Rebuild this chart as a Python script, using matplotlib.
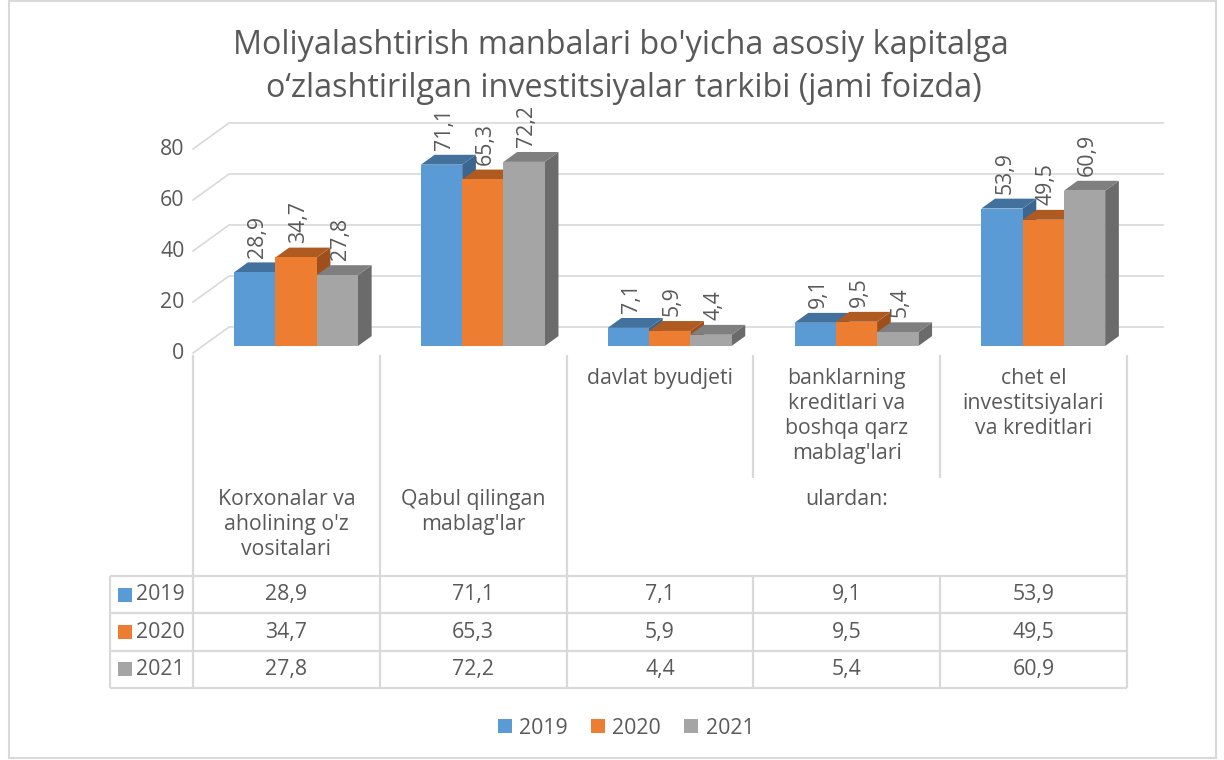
import matplotlib
matplotlib.use("Agg")
import matplotlib.pyplot as plt
from matplotlib.patches import Polygon, Rectangle, Patch

plt.rcParams['font.family'] = ['Open Sans', 'DejaVu Sans']

W, H = 1224, 760

# ---- data ----
years = ["2019", "2020", "2021"]
v2019 = [28.9, 71.1, 7.1, 9.1, 53.9]
v2020 = [34.7, 65.3, 5.9, 9.5, 49.5]
v2021 = [27.8, 72.2, 4.4, 5.4, 60.9]
series = [v2019, v2020, v2021]
yticks = [0, 20, 40, 60, 80]

# two-level category axis (Excel style)
level1_labels = ["", "", "davlat byudjeti",
                 "banklarning\nkreditlari va\nboshqa qarz\nmablag'lari",
                 "chet el\ninvestitsiyalari\nva kreditlari"]
level2_labels = ["Korxonalar va\naholining o'z\nvositalari", "Qabul qilingan\nmablag'lar"]
group_label = "ulardan:"

title1 = "Moliyalashtirish manbalari bo'yicha asosiy kapitalga"
title2 = "o\u2018zlashtirilgan investitsiyalar tarkibi (jami foizda)"

front_colors = ["#5B9BD5", "#ED7D31", "#A5A5A5"]
top_colors = ["#41719C", "#AE5A21", "#7F7F7F"]
side_colors = ["#3A6690", "#9E4F1C", "#6B6B6B"]
TXT = "#595959"
GRID = "#D9D9D9"
FS = 15.3


def fx(px):
    return px / W


def fy(py):
    return 1 - py / H


def fmt(v):
    return f"{v:.1f}".replace(".", ",")


fig = plt.figure(figsize=(W / 100, H / 100), dpi=100)

# outer chart border
fig.patches.append(Rectangle((fx(8.5), fy(758)), fx(1216) - fx(8.5), fy(1) - fy(758),
                             transform=fig.transFigure, fill=False, edgecolor=GRID, lw=1.5))

fig.text(fx(621), fy(45), title1, ha="center", va="center", fontsize=23.3, color=TXT)
fig.text(fx(624), fy(88), title2, ha="center", va="center", fontsize=23.3, color=TXT)

# ---- 3D bar area ----
PX_PER_UNIT = 2.55
ax = fig.add_axes([fx(193), fy(353), (1127 - 193) / W, (353 - 110) / H])
ax.set_xlim(0, 5)
ax.set_ylim(0, (353 - 110) / PX_PER_UNIT)
ax.axis("off")

kx, ky = 0.193, 10.2          # projection of one unit of depth (columns, values)
d_front, d_back = 0.27, 0.65  # bar depth range, back wall at depth 1
bar_w = 0.221
start = 0.168

for t in yticks:
    ax.plot([0, kx, 5 + kx], [t, t + ky, t + ky], color=GRID, lw=1.2,
            clip_on=False, zorder=1)
    ax.text(-0.045, t, str(t), ha="right", va="center", fontsize=FS, color=TXT)

for i in range(5):
    for s, vals in enumerate(series):
        v = vals[i]
        x0 = i + start + s * bar_w
        x1 = x0 + bar_w
        side = [(x1 + kx * d_front, ky * d_front), (x1 + kx * d_back, ky * d_back),
                (x1 + kx * d_back, v + ky * d_back), (x1 + kx * d_front, v + ky * d_front)]
        top = [(x0 + kx * d_front, v + ky * d_front), (x1 + kx * d_front, v + ky * d_front),
               (x1 + kx * d_back, v + ky * d_back), (x0 + kx * d_back, v + ky * d_back)]
        ax.add_patch(Polygon(side, closed=True, facecolor=side_colors[s], edgecolor="none",
                             clip_on=False, zorder=2))
        ax.add_patch(Polygon(top, closed=True, facecolor=top_colors[s], edgecolor="none",
                             clip_on=False, zorder=2))
        ax.add_patch(Rectangle((x0 + kx * d_front, ky * d_front), bar_w, v,
                               facecolor=front_colors[s], edgecolor="none",
                               clip_on=False, zorder=2))
        ax.annotate(fmt(v), xy=(x0 + bar_w / 2 + kx * d_front, v + ky * d_back),
                    xytext=(2, 3.5), textcoords="offset points", rotation=90,
                    ha="center", va="bottom", fontsize=FS, color=TXT,
                    annotation_clip=False, zorder=5)

# ---- category labels + data table ----
ROW_PX = 37.33
tax = fig.add_axes([fx(110), fy(688), (1127 - 110) / W, (688 - 355) / H])
x_left = (110 - 193) / 186.8
tax.set_xlim(x_left, 5)
tax.set_ylim(0, (688 - 355) / ROW_PX)
tax.axis("off")
ytop = (688 - 355) / ROW_PX
y_split = (688 - 478) / ROW_PX

lk = dict(color=GRID, lw=1.6, solid_capstyle="butt", clip_on=False)
for c in [0, 1, 2, 5]:
    tax.plot([c, c], [0, ytop], **lk)
for c in [3, 4]:
    tax.plot([c, c], [0, 3], **lk)
    tax.plot([c, c], [y_split, ytop], **lk)
tax.plot([x_left, x_left], [0, 3], **lk)
for r in range(4):
    tax.plot([x_left, 5], [r, r], **lk)

y_l1 = (688 - 368) / ROW_PX
y_l2 = (688 - 489) / ROW_PX
for i, lab in enumerate(level1_labels):
    if lab:
        tax.text(i + 0.5, y_l1, lab, ha="center", va="top", fontsize=FS,
                 color=TXT, linespacing=1.25)
for i, lab in enumerate(level2_labels):
    tax.text(i + 0.5, y_l2, lab, ha="center", va="top", fontsize=FS,
             color=TXT, linespacing=1.25)
tax.text(3.5, y_l2, group_label, ha="center", va="top", fontsize=FS, color=TXT)

sq = 14 / 186.8
for s, (yr, vals) in enumerate(zip(years, series)):
    yc = 2.5 - s
    tax.add_patch(Rectangle(((118 - 193) / 186.8, yc - 7 / ROW_PX), sq, 14 / ROW_PX,
                            facecolor=front_colors[s], edgecolor="none"))
    tax.text((136 - 193) / 186.8, yc, yr, ha="left", va="center", fontsize=FS, color=TXT)
    for i, v in enumerate(vals):
        tax.text(i + 0.5, yc, fmt(v), ha="center", va="center", fontsize=FS, color=TXT)

# ---- legend ----
handles = [Patch(facecolor=c, edgecolor="none") for c in front_colors]
fig.legend(handles, years, loc="center", bbox_to_anchor=(fx(626), fy(728)), ncol=3,
           frameon=False, fontsize=FS, labelcolor=TXT, handlelength=0.65,
           handleheight=0.65, handletextpad=0.35, columnspacing=1.1)

fig.savefig("out.png", dpi=100)
